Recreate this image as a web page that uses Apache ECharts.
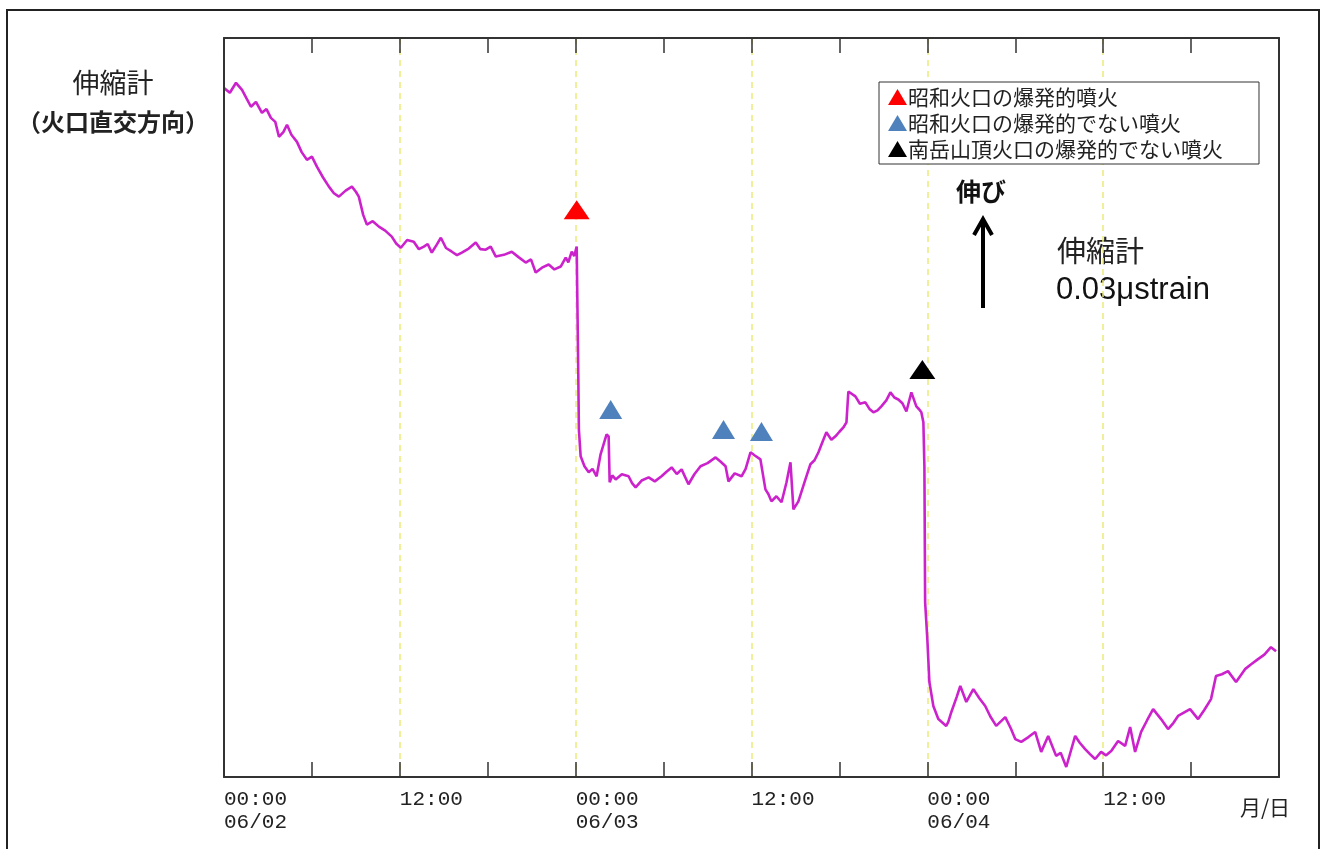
<!DOCTYPE html>
<html>
<head>
<meta charset="utf-8">
<script src="https://cdn.jsdelivr.net/npm/echarts@6/dist/echarts.min.js"></script>
<style>
  html, body { margin: 0; padding: 0; background: #ffffff; }
  #chart { width: 1326px; height: 849px; }
</style>
</head>
<body>
<div id="chart"></div>
<script>
// Extensometer record, 06/02 00:00 to 06/04 24:00 (hours from start, strain in 0.001 μstrain, relative)
const hours = [
  0.00, 0.40, 0.82, 1.23, 1.50, 1.84, 2.18, 2.59, 2.90, 3.20, 3.50, 3.75, 4.05, 4.30, 4.60, 4.98,
  5.30, 5.66, 6.00, 6.34, 6.75, 7.16, 7.50, 7.84, 8.30, 8.73, 9.00, 9.20, 9.50, 9.75, 10.15, 10.57,
  11.00, 11.45, 11.75, 12.07, 12.50, 12.95, 13.30, 13.64, 13.90, 14.18, 14.50, 14.80, 15.15, 15.55,
  15.90, 16.23, 16.70, 17.18, 17.50, 17.86, 18.20, 18.55, 19.10, 19.64, 20.10, 20.59, 20.95, 21.27,
  21.70, 22.16, 22.55, 22.98, 23.32, 23.50, 23.73, 23.90, 24.07,
  24.18, 24.22, 24.34, 24.60, 24.89, 25.15, 25.43, 25.70, 26.11, 26.25, 26.32, 26.50, 26.73, 27.15,
  27.61, 27.85, 28.09, 28.50, 28.98, 29.40, 29.86, 30.20, 30.55, 30.90, 31.23, 31.70, 32.10, 32.52,
  33.00, 33.55, 33.90, 34.23, 34.43, 34.85, 35.32, 35.60, 35.93, 36.25, 36.61, 36.95, 37.15, 37.36,
  37.70, 38.05, 38.39, 38.66, 38.86, 39.20, 39.68, 40.02, 40.30, 40.57, 40.85, 41.11, 41.45, 41.73,
  42.00, 42.27, 42.48, 42.61, 43.09, 43.40, 43.77, 44.05, 44.32, 44.60, 44.86, 45.20, 45.48, 45.75,
  46.02, 46.30, 46.57, 46.91, 47.25, 47.45, 47.59, 47.73,
  47.80, 47.85, 48.00, 48.14, 48.41, 48.75, 49.29, 49.43, 49.64, 50.00, 50.25, 50.66, 51.14, 51.55,
  51.95, 52.30, 52.70, 53.32, 53.70, 54.00, 54.41, 54.90, 55.36, 55.77, 56.25, 56.79, 57.10, 57.48,
  58.09, 58.40, 58.77, 59.10, 59.45, 59.86, 60.20, 60.55, 61.02, 61.50, 61.84, 62.18, 62.59, 63.00,
  63.41, 63.95, 64.43, 64.80, 65.11, 65.93, 66.48, 66.90, 67.36, 67.70, 68.10, 68.52, 69.07, 69.68,
  70.10, 70.57, 71.00, 71.45, 71.80
];
const strain = [
  241.5, 239.8, 243.3, 240.8, 238.2, 234.9, 236.6, 232.8, 234.1, 231.0, 229.6, 224.4, 226.0, 228.6, 225.1, 222.6,
  219.0, 216.3, 217.4, 213.9, 210.2, 206.9, 204.6, 203.4, 205.5, 206.9, 205.1, 203.4, 197.0, 193.6, 194.8, 192.9,
  191.5, 189.4, 187.0, 185.5, 188.2, 187.6, 185.0, 185.9, 186.8, 183.8, 186.4, 189.0, 185.4, 184.1,
  182.9, 183.8, 185.2, 187.3, 185.0, 184.8, 185.9, 182.4, 183.0, 184.1, 182.2, 180.3, 181.4, 176.8,
  178.5, 179.6, 177.9, 178.9, 182.0, 180.4, 184.1, 182.6, 185.9,
  140.4, 121.8, 112.4, 108.9, 106.8, 108.0, 105.4, 113.1, 120.1, 119.4, 103.3, 105.7, 104.3, 106.1,
  105.4, 103.0, 101.5, 103.9, 105.0, 103.6, 105.4, 107.0, 108.5, 106.2, 107.8, 102.6, 106.1, 108.9,
  110.0, 112.0, 110.5, 108.9, 103.6, 106.4, 105.4, 108.0, 113.8, 112.6, 111.3, 100.8, 99.2, 96.6,
  98.4, 96.3, 103.3, 110.3, 93.8, 96.6, 104.3, 109.6, 111.0, 113.8, 117.5, 120.8, 118.2, 119.4,
  121.0, 122.5, 124.3, 135.1, 133.4, 130.8, 131.3, 129.0, 127.8, 128.5, 129.9, 132.0, 134.8, 133.0,
  132.3, 131.0, 128.1, 134.8, 129.9, 128.8, 127.8, 124.3,
  108.9, 61.3, 48.3, 33.3, 24.9, 20.3, 17.9, 19.3, 22.8, 28.0, 31.9, 26.3, 30.8, 27.6,
  24.9, 21.2, 17.9, 21.0, 17.0, 13.3, 12.3, 14.0, 15.8, 8.8, 14.4, 7.4, 8.5, 3.5,
  14.4, 12.0, 9.8, 8.0, 6.3, 8.8, 7.6, 9.1, 12.6, 10.9, 17.5, 8.8, 15.8, 19.9,
  23.8, 20.3, 16.8, 19.0, 21.4, 23.8, 20.3, 23.5, 27.3, 35.4, 36.0, 37.1, 33.3, 37.8,
  39.5, 41.3, 42.9, 45.5, 44.1
];

// Eruption markers (time of eruption, marker height)
const explosiveShowaTimes = [24.07];
const explosiveShowaLevels = [198.8];
const nonExplosiveShowaTimes = [26.39, 34.09, 36.68];
const nonExplosiveShowaLevels = [128.8, 121.8, 121.1];
const minamidakeTimes = [47.66];
const minamidakeLevels = [142.8];

const legendNames = ['昭和火口の爆発的噴火', '昭和火口の爆発的でない噴火', '南岳山頂火口の爆発的でない噴火'];

// Time axis labels (hours from 06/02 00:00)
const tickHours = [0, 12, 24, 36, 48, 60];
const tickLabels = ['00:00\n06/02', '12:00', '00:00\n06/03', '12:00', '00:00\n06/04', '12:00'];

const zip = (xs, ys) => xs.map((x, i) => [x, ys[i]]);

const chart = echarts.init(document.getElementById('chart'), null, { renderer: 'canvas' });

const axisColor = '#333333';
const cjk = '"Noto Sans CJK JP", "Noto Sans", sans-serif';

chart.setOption({
  animation: false,
  backgroundColor: '#ffffff',
  grid: { left: 224, top: 38, right: 47, bottom: 72, containLabel: false },
  xAxis: [
    {
      type: 'value', position: 'bottom', min: 0, max: 72, interval: 6,
      axisLine: { show: true, onZero: false, lineStyle: { color: axisColor, width: 2 } },
      axisTick: { show: true, inside: true, length: 15, lineStyle: { color: axisColor, width: 1.5 } },
      splitLine: { show: false },
      axisLabel: {
        show: true, align: 'left', margin: 11,
        fontFamily: '"Liberation Mono", "DejaVu Sans Mono", monospace',
        fontSize: 21, lineHeight: 23, color: '#222',
        verticalAlign: 'top',
        formatter: v => {
          const k = tickHours.indexOf(v);
          return k >= 0 ? tickLabels[k] : '';
        }
      },
      z: 4
    },
    {
      type: 'value', position: 'top', min: 0, max: 72, interval: 6,
      axisLine: { show: true, onZero: false, lineStyle: { color: axisColor, width: 2 } },
      axisTick: { show: true, inside: true, length: 15, lineStyle: { color: axisColor, width: 1.5 } },
      axisLabel: { show: false },
      splitLine: { show: false },
      z: 4
    },
    {
      // 12-hour dashed guide lines
      type: 'value', position: 'bottom', min: 0, max: 72, interval: 12,
      axisLine: { show: false, onZero: false }, axisTick: { show: false }, axisLabel: { show: false },
      splitLine: { show: true, lineStyle: { color: '#ecec7a', width: 1.5, type: [6, 5] } }
    }
  ],
  yAxis: [
    {
      type: 'value', position: 'left', min: 0, max: 259,
      axisLine: { show: true, onZero: false, lineStyle: { color: axisColor, width: 2 } },
      axisTick: { show: false }, axisLabel: { show: false }, splitLine: { show: false },
      z: 4
    },
    {
      type: 'value', position: 'right', min: 0, max: 259,
      axisLine: { show: true, onZero: false, lineStyle: { color: axisColor, width: 2 } },
      axisTick: { show: false }, axisLabel: { show: false }, splitLine: { show: false },
      z: 4
    }
  ],
  legend: {
    orient: 'vertical',
    left: 879, top: 82,
    padding: [4, 36, 4, 9],
    itemGap: 4,
    itemWidth: 19, itemHeight: 16,
    icon: 'triangle',
    backgroundColor: '#ffffff',
    borderColor: '#333333', borderWidth: 1, borderRadius: 0,
    selectedMode: false,
    textStyle: { fontFamily: cjk, fontSize: 21, lineHeight: 22, color: '#222', padding: [0, 0, 0, -4] },
    data: legendNames
  },
  series: [
    {
      name: 'strain',
      type: 'line',
      xAxisIndex: 0, yAxisIndex: 0,
      data: zip(hours, strain),
      showSymbol: false,
      lineStyle: { color: '#cc22cc', width: 2.6 },
      z: 3
    },
    {
      name: legendNames[0], type: 'scatter', xAxisIndex: 0, yAxisIndex: 0,
      symbol: 'triangle', symbolSize: [26, 19],
      itemStyle: { color: '#ff0000', opacity: 1 },
      data: zip(explosiveShowaTimes, explosiveShowaLevels), z: 5
    },
    {
      name: legendNames[1], type: 'scatter', xAxisIndex: 0, yAxisIndex: 0,
      symbol: 'triangle', symbolSize: [23, 19],
      itemStyle: { color: '#4f81bd', opacity: 1 },
      data: zip(nonExplosiveShowaTimes, nonExplosiveShowaLevels), z: 5
    },
    {
      name: legendNames[2], type: 'scatter', xAxisIndex: 0, yAxisIndex: 0,
      symbol: 'triangle', symbolSize: [26, 19],
      itemStyle: { color: '#000000', opacity: 1 },
      data: zip(minamidakeTimes, minamidakeLevels), z: 5
    }
  ],
  graphic: [
    // outer frame
    { type: 'rect', shape: { x: 7, y: 10, width: 1312, height: 870 },
      style: { fill: 'none', stroke: '#222', lineWidth: 2 }, silent: true, z: 0 },
    // vertical axis title
    { type: 'text', x: 113, y: 83,
      style: { text: '伸縮計', fontFamily: cjk, fontSize: 27, fill: '#222', align: 'center', verticalAlign: 'middle' } },
    { type: 'text', x: 113, y: 122,
      style: { text: '（火口直交方向）', fontFamily: cjk, fontSize: 24, fontWeight: 'bold', fill: '#222', align: 'center', verticalAlign: 'middle' } },
    // scale indicator
    { type: 'text', x: 981, y: 191,
      style: { text: '伸び', fontFamily: cjk, fontSize: 25, fontWeight: 'bold', fill: '#111', align: 'center', verticalAlign: 'middle' } },
    { type: 'line', shape: { x1: 983, y1: 221, x2: 983, y2: 308 },
      style: { stroke: '#000', lineWidth: 4 } },
    { type: 'polyline', shape: { points: [[974, 235], [983, 219], [992, 235]] },
      style: { stroke: '#000', lineWidth: 4, fill: 'none', lineJoin: 'miter' } },
    { type: 'text', x: 1057, y: 251,
      style: { text: '伸縮計', fontFamily: cjk, fontSize: 29, fill: '#222', align: 'left', verticalAlign: 'middle' } },
    { type: 'text', x: 1056, y: 290,
      style: { text: '0.03μstrain', fontFamily: '"Liberation Sans", Arial, sans-serif', fontSize: 31, fill: '#111', align: 'left', verticalAlign: 'middle' } },
    // month/day unit label
    { type: 'text', x: 1265, y: 807,
      style: { text: '月/日', fontFamily: cjk, fontSize: 21, fill: '#222', align: 'center', verticalAlign: 'middle' } }
  ]
});
</script>
</body>
</html>
